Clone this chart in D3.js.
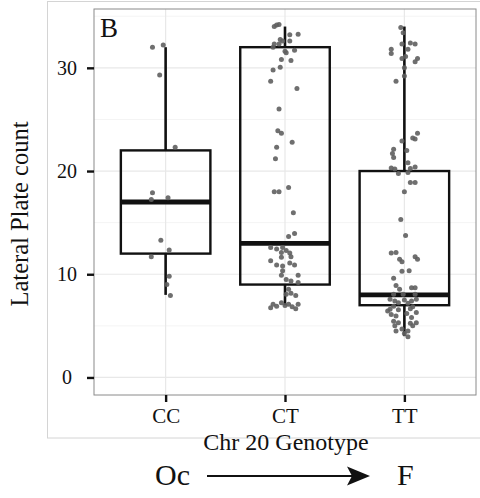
<!DOCTYPE html>
<html>
<head>
<meta charset="utf-8">
<script src="https://cdn.jsdelivr.net/npm/d3@7"></script>
<style>
  body { margin: 0; background: #fff; }
  svg { display: block; font-family: "Liberation Serif", "DejaVu Serif", serif; }
</style>
</head>
<body>
<script>
// genotypes along the x axis
var genotypes = ["CC", "CT", "TT"]

// box stats per genotype (lower whisker, hinges, median, upper whisker)
var whiskerLow = [8, 7, 4]
var q1 = [12, 9, 7]
var medians = [17, 13, 8]
var q3 = [22, 32, 20]
var whiskerHigh = [32, 34, 34]

// jittered points: [plate count, horizontal jitter in category units]
var ccPoints = [[32.0,-0.11],[32.2,-0.02],[29.3,-0.05],[22.3,0.08],[17.9,-0.11],[17.25,-0.12],[17.4,0.02],
  [13.3,-0.04],[12.35,0.03],[11.7,-0.12],[9.8,0.03],[9.0,0.01],[7.95,0.04]]

var ctPoints = [[34.0,-0.09],[34.2,-0.05],[34.15,-0.07],[32.75,-0.04],[32.6,-0.02],[33.2,0.04],[33.25,0.11],
  [32.3,-0.09],[32.0,-0.10],[32.3,-0.05],[31.6,0.0],[31.45,0.01],[31.7,0.08],[32.6,0.04],[30.8,-0.03],
  [30.7,0.05],[29.8,-0.10],[30.05,-0.04],[28.7,-0.12],[28.0,0.10],[26.0,-0.05],[23.9,-0.06],[23.65,-0.03],
  [22.8,0.06],[22.3,-0.07],[21.2,-0.08],
  [18.0,-0.09],[18.0,-0.05],[18.4,0.03],[15.95,0.07],[13.65,0.03],[13.95,0.08],
  [12.6,-0.12],[12.45,-0.07],[12.6,-0.02],[12.1,-0.03],[12.3,0.01],[12.05,0.04],[11.3,-0.12],[11.65,-0.03],
  [11.7,0.05],[10.9,-0.07],[10.8,-0.02],[11.1,0.04],[10.9,0.08],[10.35,-0.02],[9.9,-0.03],[9.9,0.11],
  [9.5,0.01],[9.35,0.05],[9.2,0.11],[8.55,0.03],[8.05,0.01],[8.15,0.05],[7.95,0.09],[7.1,-0.10],[6.9,-0.07],
  [7.25,-0.03],[6.97,0.0],[7.1,0.03],[6.85,0.06],[7.1,0.11],[6.75,-0.12],[6.65,0.09]]

var ttPoints = [[33.9,-0.03],[33.4,-0.01],[32.3,-0.02],[32.4,0.05],[32.3,0.09],[31.8,-0.11],[31.4,-0.11],
  [31.8,0.03],[30.9,-0.02],[31.1,0.01],[30.6,0.09],[30.9,0.11],[30.0,0.0],[29.2,0.0],[28.7,-0.07],
  [23.65,0.11],[23.2,0.07],[23.1,0.09],[22.9,-0.02],[22.1,-0.09],[21.7,-0.10],[21.3,-0.09],[22.0,0.02],
  [20.8,0.03],[20.3,-0.11],[20.2,-0.08],[19.75,-0.05],[19.85,0.03],[20.4,0.09],[20.25,0.05],
  [18.9,0.05],[18.9,0.09],[18.0,0.0],[15.3,-0.03],[13.75,0.01],[12.05,-0.11],[12.1,-0.07],[11.45,-0.04],
  [11.2,-0.02],[11.7,0.09],[11.45,0.11],[10.3,-0.02],[10.35,0.04],[9.6,-0.09],[8.9,-0.07],[8.55,-0.04],
  [8.7,0.06],[8.7,0.09],
  [8.05,-0.09],[8.05,0.09],[8.05,-0.01],[7.57,-0.12],[7.4,-0.08],[7.5,0.0],[7.4,0.06],[7.57,0.10],
  [7.25,-0.05],[7.2,0.03],[6.9,-0.09],[6.85,0.07],[6.6,-0.12],[6.55,-0.05],[6.65,0.05],[6.3,0.10],
  [6.1,-0.11],[5.95,-0.07],[6.2,0.02],[5.8,0.06],[5.3,0.10],[5.45,-0.09],[5.3,-0.05],[5.25,0.05],
  [5.0,-0.08],[5.0,0.07],[4.7,-0.02],[4.5,-0.07],[4.5,0.03],[4.25,0.0],[3.95,0.03],[6.45,-0.14]]

var yTicks = [0, 10, 20, 30]
var yMinor = [5, 15, 25, 35]

var width = 480, height = 498
var panel = {left: 94, right: 476, top: 9, bottom: 395}

var svg = d3.select("body").append("svg")
  .attr("width", width)
  .attr("height", height)

var x = d3.scalePoint().domain(genotypes).range([panel.left, panel.right]).padding(0.6)
var y = d3.scaleLinear().domain([-1.7, 35.7]).range([panel.bottom, panel.top])
var step = x.step()
var boxW = step * 0.75

// outer plot border
svg.append("rect")
  .attr("x", 47.5).attr("y", 1.5)
  .attr("width", 460).attr("height", 436.5)
  .attr("fill", "none").attr("stroke", "#d4d4d4")

// grid lines
svg.selectAll(".minor")
  .data(yMinor)
  .join("line")
  .attr("x1", panel.left).attr("x2", panel.right)
  .attr("y1", d => y(d)).attr("y2", d => y(d))
  .attr("stroke", "#f4f4f4").attr("stroke-width", 1)

svg.selectAll(".major")
  .data(yTicks)
  .join("line")
  .attr("x1", panel.left).attr("x2", panel.right)
  .attr("y1", d => y(d)).attr("y2", d => y(d))
  .attr("stroke", "#e8e8e8").attr("stroke-width", 1.2)

svg.selectAll(".vgrid")
  .data(genotypes)
  .join("line")
  .attr("x1", d => x(d)).attr("x2", d => x(d))
  .attr("y1", panel.top).attr("y2", panel.bottom)
  .attr("stroke", "#e8e8e8").attr("stroke-width", 1.2)

// boxes
var boxes = svg.selectAll(".box")
  .data(genotypes)
  .join("g")
  .attr("class", "box")

boxes.append("line")
  .attr("x1", d => x(d)).attr("x2", d => x(d))
  .attr("y1", (d, i) => y(whiskerHigh[i])).attr("y2", (d, i) => y(q3[i]))
  .attr("stroke", "#111").attr("stroke-width", 2.6)
boxes.append("line")
  .attr("x1", d => x(d)).attr("x2", d => x(d))
  .attr("y1", (d, i) => y(q1[i])).attr("y2", (d, i) => y(whiskerLow[i]))
  .attr("stroke", "#111").attr("stroke-width", 2.6)
boxes.append("rect")
  .attr("x", d => x(d) - boxW / 2)
  .attr("width", boxW)
  .attr("y", (d, i) => y(q3[i]))
  .attr("height", (d, i) => y(q1[i]) - y(q3[i]))
  .attr("fill", "none").attr("stroke", "#111").attr("stroke-width", 2.4)
boxes.append("line")
  .attr("x1", d => x(d) - boxW / 2).attr("x2", d => x(d) + boxW / 2)
  .attr("y1", (d, i) => y(medians[i])).attr("y2", (d, i) => y(medians[i]))
  .attr("stroke", "#111").attr("stroke-width", 4.8)

// jittered points
var allPoints = [ccPoints, ctPoints, ttPoints]
allPoints.forEach(function(pts, i) {
  svg.append("g")
    .selectAll("circle")
    .data(pts)
    .join("circle")
    .attr("cx", d => x(genotypes[i]) + d[1] * step)
    .attr("cy", d => y(d[0]))
    .attr("r", 2.5)
    .attr("fill", "#5f5f5f")
    .attr("fill-opacity", 0.9)
})

// panel border
svg.append("rect")
  .attr("x", panel.left).attr("y", panel.top)
  .attr("width", panel.right - panel.left).attr("height", panel.bottom - panel.top)
  .attr("fill", "none").attr("stroke", "#8a8a8a").attr("stroke-width", 1)

// y axis
var yAxis = svg.append("g")
  .attr("transform", `translate(${panel.left},0)`)
  .call(d3.axisLeft(y).tickValues(yTicks).tickSize(7).tickPadding(0))
yAxis.select(".domain").remove()
yAxis.selectAll(".tick line").attr("stroke", "#111").attr("stroke-width", 2.4)
yAxis.selectAll(".tick text")
  .attr("x", -27).attr("text-anchor", "middle")
  .attr("font-family", "Liberation Serif").attr("font-size", 20).attr("fill", "#111")

// x axis
var xAxis = svg.append("g")
  .attr("transform", `translate(0,${panel.bottom})`)
  .call(d3.axisBottom(x).tickSize(7).tickPadding(0))
xAxis.select(".domain").remove()
xAxis.selectAll(".tick line").attr("stroke", "#111").attr("stroke-width", 2.4)
xAxis.selectAll(".tick text")
  .attr("y", 28).attr("dy", 0)
  .attr("font-family", "Liberation Serif").attr("font-size", 21).attr("fill", "#111")

// axis titles
svg.append("text")
  .attr("x", 286).attr("y", 450)
  .attr("text-anchor", "middle")
  .attr("font-size", 24).attr("fill", "#111")
  .text("Chr 20 Genotype")

svg.append("text")
  .attr("transform", "translate(28,214) rotate(-90)")
  .attr("text-anchor", "middle")
  .attr("font-size", 24.5).attr("fill", "#111")
  .text("Lateral Plate count")

// panel tag
svg.append("text")
  .attr("x", 100).attr("y", 37)
  .attr("font-size", 27).attr("fill", "#111")
  .text("B")

// Oc -> F arrow under the chart
svg.append("text")
  .attr("x", 155).attr("y", 485)
  .attr("font-size", 30).attr("fill", "#111")
  .text("Oc")
svg.append("line")
  .attr("x1", 207).attr("x2", 352)
  .attr("y1", 476).attr("y2", 476)
  .attr("stroke", "#111").attr("stroke-width", 2)
svg.append("path")
  .attr("d", "M347,466.5 L370,476 L347,485.5 L352,476 Z")
  .attr("fill", "#111")
svg.append("text")
  .attr("x", 397).attr("y", 485)
  .attr("font-size", 30).attr("fill", "#111")
  .text("F")
</script>
</body>
</html>
